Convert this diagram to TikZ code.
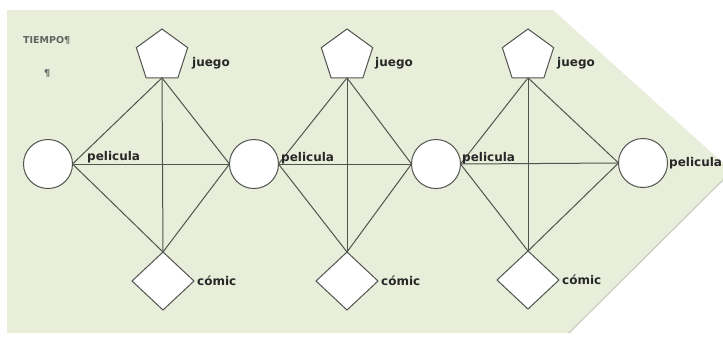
\documentclass[tikz,border=0pt]{standalone}
\usepackage{fontspec}
\setmainfont{DejaVu Sans}
\usetikzlibrary{shapes.geometric}
\definecolor{bgc}{RGB}{232,238,218}
\definecolor{edgec}{RGB}{200,206,190}
\definecolor{linec}{RGB}{80,84,78}
\definecolor{txtc}{RGB}{40,40,40}
\definecolor{titc}{RGB}{95,100,95}
\tikzset{
  filmnode/.style={circle,draw=linec,fill=white,line width=1pt,minimum size=49pt,inner sep=0pt,outer sep=0pt},
  gamenode/.style={regular polygon,regular polygon sides=5,draw=linec,fill=white,line width=1pt,minimum size=54pt,inner sep=0pt,outer sep=0pt},
  comicnode/.style={diamond,draw=linec,fill=white,line width=1pt,minimum width=62pt,minimum height=58pt,inner sep=0pt,outer sep=0pt},
  conn/.style={draw=linec,line width=1pt},
  lbl/.style={anchor=west,inner sep=0pt,text=txtc,font=\bfseries\fontsize{12}{14}\selectfont},
  titl/.style={anchor=west,inner sep=0pt,text=titc,font=\bfseries\fontsize{9.5}{11}\selectfont}
}
\begin{document}
\begin{tikzpicture}[x=1pt,y=-1pt]
\useasboundingbox (0,0) rectangle (723,338);
\fill[white] (0,0) rectangle (723,338);
\fill[bgc] (7,10) -- (553,10) -- (732,171) -- (569,333) -- (7,333) -- cycle;
\draw[edgec,line width=1.2pt] (732,171) -- (569,333);
% nodes
\node[filmnode] (c1) at (48,164) {};
\node[filmnode] (c2) at (254,164) {};
\node[filmnode] (c3) at (436,164) {};
\node[filmnode] (c4) at (643,163) {};
\node[gamenode] (p1) at (162,56) {};
\node[gamenode] (p2) at (347,56) {};
\node[gamenode] (p3) at (528,56) {};
\node[comicnode] (d1) at (163,281) {};
\node[comicnode] (d2) at (347,281) {};
\node[comicnode] (d3) at (528,280) {};
% connectors
\foreach \i/\j in {1/2,2/3,3/4}{
  \draw[conn] (p\i.side 3) -- (c\i.east);
  \draw[conn] (p\i.side 3) -- (c\j.west);
  \draw[conn] (p\i.side 3) -- (d\i.north);
  \draw[conn] (d\i.north) -- (c\i.east);
  \draw[conn] (d\i.north) -- (c\j.west);
  \draw[conn] (c\i.east) -- (c\j.west);
}
% labels
\node[titl] (t1) at (23,40) {TIEMPO¶};
\node[titl] (t2) at (44,73) {¶};
\node[lbl] (lp1) at (87,157) {pelicula};
\node[lbl] (lp2) at (281,158) {pelicula};
\node[lbl] (lp3) at (462,158) {pelicula};
\node[lbl] (lp4) at (669,163) {pelicula};
\node[lbl] (lj1) at (192,63) {juego};
\node[lbl] (lj2) at (375,63) {juego};
\node[lbl] (lj3) at (557,63) {juego};
\node[lbl] (lc1) at (197,281) {cómic};
\node[lbl] (lc2) at (381,281) {cómic};
\node[lbl] (lc3) at (562,280) {cómic};
\end{tikzpicture}
\end{document}
